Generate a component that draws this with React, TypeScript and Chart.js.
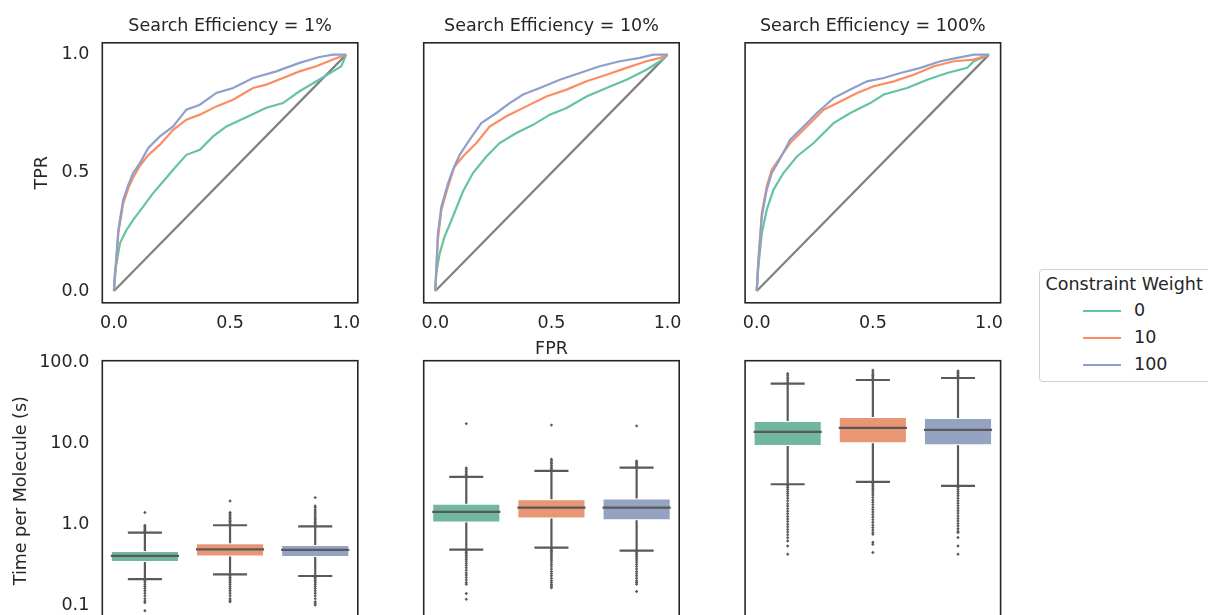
import React, { useEffect, useRef } from 'react';
import { Chart, registerables } from 'chart.js';

Chart.register(...registerables);

// ---------------- data ----------------
const constraintWeights = ['0', '10', '100'];
const searchEfficiencies = ['1%', '10%', '100%'];
const rocTickValues = [0, 0.5, 1.0];
const timeTickValues = [0.1, 1, 10, 100];
const diagonalFpr = [0, 1];
const diagonalTpr = [0, 1];

// ROC curves, Search Efficiency = 1%
const fprE1W0 = [0, 0.004, 0.026, 0.054, 0.083, 0.126, 0.169, 0.212, 0.255, 0.312, 0.37, 0.427, 0.484, 0.57, 0.656, 0.728, 0.799, 0.885, 0.943, 0.979, 1];
const tprE1W0 = [0, 0.075, 0.202, 0.258, 0.301, 0.357, 0.414, 0.463, 0.513, 0.576, 0.597, 0.654, 0.696, 0.735, 0.775, 0.795, 0.845, 0.895, 0.929, 0.951, 1];
const fprE1W10 = [0, 0.019, 0.04, 0.062, 0.083, 0.112, 0.148, 0.198, 0.255, 0.312, 0.37, 0.441, 0.513, 0.599, 0.656, 0.728, 0.799, 0.871, 0.943, 1];
const tprE1W10 = [0, 0.244, 0.371, 0.435, 0.48, 0.53, 0.575, 0.619, 0.682, 0.725, 0.746, 0.781, 0.809, 0.859, 0.873, 0.901, 0.929, 0.951, 0.979, 1];
const fprE1W100 = [0, 0.019, 0.04, 0.062, 0.083, 0.112, 0.148, 0.198, 0.255, 0.312, 0.37, 0.441, 0.513, 0.599, 0.699, 0.799, 0.885, 0.943, 1];
const tprE1W100 = [0, 0.258, 0.386, 0.449, 0.499, 0.541, 0.605, 0.654, 0.696, 0.767, 0.788, 0.838, 0.859, 0.901, 0.929, 0.965, 0.99, 1.0, 1];

// ROC curves, Search Efficiency = 10%
const fprE10W0 = [0, 0.004, 0.019, 0.04, 0.076, 0.119, 0.162, 0.22, 0.277, 0.349, 0.421, 0.493, 0.565, 0.651, 0.737, 0.823, 0.909, 0.967, 1];
const tprE10W0 = [0, 0.075, 0.16, 0.23, 0.315, 0.421, 0.499, 0.569, 0.626, 0.668, 0.703, 0.746, 0.774, 0.823, 0.859, 0.894, 0.936, 0.972, 1];
const fprE10W10 = [0, 0.011, 0.026, 0.055, 0.083, 0.119, 0.177, 0.234, 0.306, 0.392, 0.478, 0.565, 0.651, 0.737, 0.823, 0.909, 0.967, 1];
const tprE10W10 = [0, 0.216, 0.343, 0.442, 0.527, 0.569, 0.626, 0.696, 0.739, 0.781, 0.823, 0.852, 0.887, 0.915, 0.944, 0.972, 0.986, 1];
const fprE10W100 = [0, 0.011, 0.026, 0.055, 0.076, 0.105, 0.148, 0.198, 0.263, 0.32, 0.378, 0.45, 0.536, 0.622, 0.708, 0.795, 0.881, 0.938, 1];
const tprE10W100 = [0, 0.244, 0.357, 0.456, 0.513, 0.576, 0.64, 0.71, 0.753, 0.795, 0.831, 0.859, 0.894, 0.922, 0.951, 0.972, 0.986, 1.0, 1];

// ROC curves, Search Efficiency = 100%
const fprE100W0 = [0, 0.007, 0.022, 0.043, 0.072, 0.115, 0.173, 0.245, 0.331, 0.403, 0.489, 0.547, 0.647, 0.734, 0.82, 0.906, 0.935, 1];
const tprE100W0 = [0, 0.103, 0.244, 0.343, 0.428, 0.499, 0.569, 0.626, 0.71, 0.753, 0.795, 0.831, 0.859, 0.894, 0.922, 0.944, 0.972, 1];
const fprE100W10 = [0, 0.007, 0.022, 0.043, 0.065, 0.094, 0.144, 0.216, 0.288, 0.36, 0.432, 0.504, 0.59, 0.676, 0.763, 0.849, 0.935, 1];
const tprE100W10 = [0, 0.131, 0.329, 0.442, 0.513, 0.555, 0.626, 0.696, 0.767, 0.802, 0.838, 0.866, 0.887, 0.915, 0.951, 0.972, 0.979, 1];
const fprE100W100 = [0, 0.007, 0.022, 0.043, 0.065, 0.094, 0.144, 0.216, 0.259, 0.331, 0.403, 0.475, 0.547, 0.619, 0.705, 0.791, 0.863, 0.935, 1];
const tprE100W100 = [0, 0.117, 0.315, 0.428, 0.499, 0.548, 0.64, 0.71, 0.753, 0.816, 0.852, 0.887, 0.901, 0.922, 0.944, 0.972, 0.986, 1.0, 1];

// Time per molecule box statistics (per constraint weight 0, 10, 100)
const q1E1 = [0.341, 0.398, 0.394];
const medE1 = [0.405, 0.49, 0.481];
const q3E1 = [0.467, 0.582, 0.555];
const loE1 = [0.209, 0.24, 0.229];
const hiE1 = [0.789, 0.972, 0.944];

const q1E10 = [1.05, 1.18, 1.12];
const medE10 = [1.42, 1.61, 1.61];
const q3E10 = [1.8, 2.04, 2.08];
const loE10 = [0.486, 0.515, 0.472];
const hiE10 = [3.85, 4.57, 5.03];

const q1E100 = [9.31, 10.06, 9.5];
const medE100 = [13.9, 15.6, 14.7];
const q3E100 = [19.0, 21.3, 20.7];
const loE100 = [3.13, 3.34, 2.98];
const hiE100 = [55.1, 61.1, 64.7];

// Outliers
const fliersE1W0 = [0.81, 0.84, 0.87, 0.9, 0.93, 0.97, 1.4, 0.2, 0.19, 0.18, 0.17, 0.16, 0.15, 0.14, 0.13, 0.12, 0.112, 0.107, 0.085];
const fliersE1W10 = [1.0, 1.04, 1.08, 1.12, 1.17, 1.22, 1.28, 1.34, 1.4, 1.94, 0.23, 0.22, 0.21, 0.2, 0.19, 0.18, 0.17, 0.16, 0.15, 0.14, 0.13, 0.12, 0.115, 0.11];
const fliersE1W100 = [0.97, 1.01, 1.05, 1.1, 1.15, 1.2, 1.27, 1.34, 1.42, 1.5, 1.6, 1.68, 2.14, 0.22, 0.21, 0.2, 0.19, 0.18, 0.17, 0.16, 0.15, 0.14, 0.13, 0.12, 0.11, 0.105, 0.1];
const fliersE10W0 = [3.95, 4.1, 4.3, 4.5, 4.75, 4.97, 17.6, 0.47, 0.45, 0.43, 0.41, 0.39, 0.37, 0.35, 0.33, 0.31, 0.29, 0.27, 0.25, 0.235, 0.22, 0.205, 0.19, 0.181, 0.139, 0.118];
const fliersE10W10 = [4.7, 4.9, 5.1, 5.35, 5.6, 5.85, 6.1, 6.37, 16.9, 0.5, 0.48, 0.46, 0.44, 0.42, 0.4, 0.38, 0.36, 0.34, 0.32, 0.3, 0.28, 0.26, 0.245, 0.23, 0.215, 0.2, 0.19, 0.18, 0.172, 0.164];
const fliersE10W100 = [5.2, 5.4, 5.6, 5.85, 6.08, 16.5, 0.46, 0.44, 0.42, 0.4, 0.38, 0.36, 0.34, 0.32, 0.3, 0.28, 0.26, 0.245, 0.23, 0.215, 0.2, 0.19, 0.181, 0.147];
const fliersE100W0 = [57, 60, 63, 66, 70, 73.3, 3.0, 2.85, 2.7, 2.55, 2.4, 2.25, 2.1, 1.95, 1.8, 1.68, 1.56, 1.45, 1.35, 1.25, 1.16, 1.08, 1.0, 0.93, 0.86, 0.8, 0.74, 0.68, 0.62, 0.539, 0.425];
const fliersE100W10 = [63, 66, 69, 72, 76, 80.5, 3.2, 3.05, 2.9, 2.75, 2.6, 2.45, 2.3, 2.15, 2.0, 1.87, 1.75, 1.63, 1.52, 1.42, 1.32, 1.23, 1.14, 1.06, 0.98, 0.91, 0.85, 0.79, 0.75, 0.6, 0.565, 0.447];
const fliersE100W100 = [67, 70, 73, 76, 78.9, 2.85, 2.7, 2.55, 2.4, 2.25, 2.1, 1.95, 1.82, 1.7, 1.58, 1.47, 1.37, 1.27, 1.18, 1.1, 1.02, 0.95, 0.88, 0.82, 0.789, 0.685, 0.539, 0.425];

// grouping of the named arrays
const rocFpr = [[fprE1W0, fprE1W10, fprE1W100], [fprE10W0, fprE10W10, fprE10W100], [fprE100W0, fprE100W10, fprE100W100]];
const rocTpr = [[tprE1W0, tprE1W10, tprE1W100], [tprE10W0, tprE10W10, tprE10W100], [tprE100W0, tprE100W10, tprE100W100]];
const boxQ1 = [q1E1, q1E10, q1E100];
const boxMed = [medE1, medE10, medE100];
const boxQ3 = [q3E1, q3E10, q3E100];
const boxLo = [loE1, loE10, loE100];
const boxHi = [hiE1, hiE10, hiE100];
const boxFliers = [[fliersE1W0, fliersE1W10, fliersE1W100], [fliersE10W0, fliersE10W10, fliersE10W100], [fliersE100W0, fliersE100W10, fliersE100W100]];

// ---------------- style ----------------
const FONT = "'DejaVu Sans', sans-serif";
const FONT_SIZE = 17.5;
const TEXT_COLOR = '#262626';
const FRAME_COLOR = '#262626';
const LINE_COLORS = ['#66c2a5', '#fc8d62', '#8da0cb'];
const BOX_COLORS = ['#71b7a0', '#e99675', '#95a3c3'];
const BOX_LINE = '#595959';
const DIAG_COLOR = '#808080';

Chart.defaults.font.family = FONT;
Chart.defaults.font.size = FONT_SIZE;
Chart.defaults.color = TEXT_COLOR;

// ---------------- layout ----------------
const FRAME_X = [102.3, 423.7, 745.1];
const FRAME_W = 255.5;
const TOP_Y = 42.8;
const BOT_Y = 360.7;
const FRAME_H = 260;

type Geo = { left: number; top: number; width: number; height: number; L: number; T: number; R: number; B: number };

function geometry(fx: number, fy: number, padL: number, padT: number, padR: number, padB: number): Geo {
  const left = Math.floor(fx - padL);
  const top = Math.floor(fy - padT);
  const L = fx - left;
  const T = fy - top;
  const width = Math.ceil(L + FRAME_W + padR);
  const height = Math.ceil(T + FRAME_H + padB);
  return { left, top, width, height, L, T, R: width - L - FRAME_W, B: height - T - FRAME_H };
}

const framePlugin = {
  id: 'frame',
  afterDatasetsDraw(chart: any) {
    const { ctx, chartArea } = chart;
    ctx.save();
    ctx.strokeStyle = FRAME_COLOR;
    ctx.lineWidth = 1.6;
    ctx.strokeRect(chartArea.left, chartArea.top, chartArea.right - chartArea.left, chartArea.bottom - chartArea.top);
    ctx.restore();
  },
};

const fontObj = { family: FONT, size: FONT_SIZE, weight: 'normal' as const };

function rocConfig(e: number, g: Geo, showY: boolean, xTitle: string | null): any {
  const datasets: any[] = [
    {
      label: 'chance',
      data: diagonalFpr.map((x, i) => ({ x, y: diagonalTpr[i] })),
      borderColor: DIAG_COLOR,
      borderWidth: 2.2,
      order: 4,
    },
  ];
  constraintWeights.forEach((w, wi) => {
    datasets.push({
      label: w,
      data: rocFpr[e][wi].map((x, i) => ({ x, y: rocTpr[e][wi][i] })),
      borderColor: LINE_COLORS[wi],
      borderWidth: 2.2,
      order: 3 - wi,
    });
  });
  datasets.forEach((d) => {
    d.showLine = true;
    d.pointRadius = 0;
    d.fill = false;
    d.tension = 0;
  });
  const pt = g.T - FONT_SIZE * 1.2 - 6;
  return {
    type: 'scatter',
    data: { datasets },
    options: {
      animation: false,
      responsive: false,
      maintainAspectRatio: false,
      devicePixelRatio: 1,
      events: [],
      layout: { padding: { left: showY ? 0 : g.L, top: 0, right: g.R, bottom: 0 } },
      plugins: {
        legend: { display: false },
        tooltip: { enabled: false },
        title: {
          display: true,
          text: 'Search Efficiency = ' + searchEfficiencies[e],
          font: fontObj,
          color: TEXT_COLOR,
          fullSize: false,
          padding: { top: pt, bottom: 6 },
        },
      },
      scales: {
        x: {
          type: 'linear',
          min: -0.05,
          max: 1.05,
          bounds: 'data',
          offset: false,
          grid: { display: false, drawTicks: false },
          border: { display: false },
          ticks: {
            padding: 10.5,
            color: TEXT_COLOR,
            font: fontObj,
            maxRotation: 0,
            autoSkip: false,
            callback: (v: any) => Number(v).toFixed(1),
          },
          afterBuildTicks: (s: any) => {
            s.ticks = rocTickValues.map((v) => ({ value: v }));
          },
          afterFit: (s: any) => {
            s.height = g.B;
            s.paddingLeft = 0;
            s.paddingRight = 0;
          },
          title: xTitle
            ? { display: true, text: xTitle, color: TEXT_COLOR, font: fontObj, padding: { top: 4, bottom: 4 } }
            : { display: false },
        },
        y: showY
          ? {
              type: 'linear',
              min: -0.05,
              max: 1.05,
              bounds: 'data',
              grid: { display: false, drawTicks: false },
              border: { display: false },
              ticks: {
                padding: 13,
                color: TEXT_COLOR,
                font: fontObj,
                autoSkip: false,
                callback: (v: any) => Number(v).toFixed(1),
              },
              afterBuildTicks: (s: any) => {
                s.ticks = rocTickValues.map((v) => ({ value: v }));
              },
              afterFit: (s: any) => {
                s.width = g.L;
                s.paddingTop = 0;
                s.paddingBottom = 0;
              },
              title: { display: true, text: 'TPR', color: TEXT_COLOR, font: fontObj, padding: { top: 4, bottom: 4 } },
            }
          : { type: 'linear', display: false, min: -0.05, max: 1.05, bounds: 'data' },
      },
    },
    plugins: [framePlugin],
  };
}

function timeConfig(e: number, g: Geo, showY: boolean): any {
  const q1 = boxQ1[e], med = boxMed[e], q3 = boxQ3[e], lo = boxLo[e], hi = boxHi[e];
  const boxes = constraintWeights.map((_, i) => ({ x: i, y: [q1[i], q3[i]] }));
  const segs: any[] = [];
  constraintWeights.forEach((_, i) => {
    segs.push({ x: i, y: lo[i] }, { x: i, y: q1[i] }, { x: i, y: null });
    segs.push({ x: i, y: q3[i] }, { x: i, y: hi[i] }, { x: i, y: null });
    segs.push({ x: i - 0.2, y: lo[i] }, { x: i + 0.2, y: lo[i] }, { x: i, y: null });
    segs.push({ x: i - 0.2, y: hi[i] }, { x: i + 0.2, y: hi[i] }, { x: i, y: null });
    segs.push({ x: i - 0.4, y: med[i] }, { x: i + 0.4, y: med[i] }, { x: i, y: null });
  });
  const fliers: any[] = [];
  boxFliers[e].forEach((arr, i) => arr.forEach((v) => fliers.push({ x: i, y: v })));
  return {
    type: 'bar',
    data: {
      datasets: [
        {
          type: 'bar',
          label: 'box',
          data: boxes,
          backgroundColor: BOX_COLORS,
          borderColor: 'rgba(255,255,255,0.55)',
          borderWidth: 1,
          borderSkipped: false,
          barPercentage: 0.8,
          categoryPercentage: 1,
          order: 3,
        },
        {
          type: 'line',
          label: 'whiskers',
          data: segs,
          borderColor: BOX_LINE,
          borderWidth: 2.2,
          pointRadius: 0,
          spanGaps: false,
          fill: false,
          tension: 0,
          order: 2,
        },
        {
          type: 'line',
          label: 'fliers',
          data: fliers,
          showLine: false,
          pointRadius: 1.7,
          pointStyle: 'rectRot',
          pointBackgroundColor: BOX_LINE,
          pointBorderWidth: 0,
          order: 1,
        },
      ],
    },
    options: {
      animation: false,
      responsive: false,
      maintainAspectRatio: false,
      devicePixelRatio: 1,
      events: [],
      layout: { padding: { left: showY ? 0 : g.L, top: g.T, right: g.R, bottom: g.B } },
      plugins: { legend: { display: false }, tooltip: { enabled: false } },
      scales: {
        x: {
          type: 'linear',
          display: false,
          min: -0.5,
          max: 2.5,
          bounds: 'data',
          offset: false,
          afterBuildTicks: (s: any) => {
            s.ticks = constraintWeights.map((_, i) => ({ value: i }));
          },
        },
        y: showY
          ? {
              type: 'logarithmic',
              min: 0.064,
              max: 105.9,
              bounds: 'data',
              grid: { display: false, drawTicks: false },
              border: { display: false },
              ticks: {
                padding: 13,
                color: TEXT_COLOR,
                font: fontObj,
                autoSkip: false,
                callback: (v: any) => Number(v).toFixed(1),
              },
              afterBuildTicks: (s: any) => {
                s.ticks = timeTickValues.map((v) => ({ value: v }));
              },
              afterFit: (s: any) => {
                s.width = g.L;
                s.paddingTop = 0;
                s.paddingBottom = 0;
              },
              title: { display: true, text: 'Time per Molecule (s)', color: TEXT_COLOR, font: fontObj, padding: { top: 4, bottom: 4 } },
            }
          : { type: 'logarithmic', display: false, min: 0.064, max: 105.9, bounds: 'data' },
      },
    },
    plugins: [framePlugin],
  };
}

function ChartBox({ g, make }: { g: Geo; make: () => any }) {
  const ref = useRef<HTMLCanvasElement | null>(null);
  useEffect(() => {
    const chart = new Chart(ref.current as HTMLCanvasElement, make());
    return () => chart.destroy();
  }, []);
  return (
    <canvas
      ref={ref}
      width={g.width}
      height={g.height}
      style={{ position: 'absolute', left: g.left, top: g.top, width: g.width, height: g.height }}
    />
  );
}

const TITLE_HALF = FONT_SIZE * 0.6 + 4;

export default function App() {
  const topGeos = [
    geometry(FRAME_X[0], TOP_Y, FRAME_X[0] - (43 - TITLE_HALF), TOP_Y, 12, 40),
    geometry(FRAME_X[1], TOP_Y, 15, TOP_Y, 12, 60.5),
    geometry(FRAME_X[2], TOP_Y, 15, TOP_Y, 12, 40),
  ];
  const botGeos = [
    geometry(FRAME_X[0], BOT_Y, FRAME_X[0] - (21.7 - TITLE_HALF), 22, 12, 6),
    geometry(FRAME_X[1], BOT_Y, 15, 22, 12, 6),
    geometry(FRAME_X[2], BOT_Y, 15, 22, 12, 6),
  ];
  return (
    <div
      style={{
        position: 'fixed',
        left: 0,
        top: 0,
        width: 1208,
        height: 615,
        overflow: 'hidden',
        background: '#ffffff',
        fontFamily: FONT,
      }}
    >
      {topGeos.map((g, e) => (
        <ChartBox key={'roc' + e} g={g} make={() => rocConfig(e, g, e === 0, e === 1 ? 'FPR' : null)} />
      ))}
      {botGeos.map((g, e) => (
        <ChartBox key={'time' + e} g={g} make={() => timeConfig(e, g, e === 0)} />
      ))}
      <div
        style={{
          position: 'absolute',
          left: 1039,
          top: 269,
          width: 200,
          height: 113,
          boxSizing: 'border-box',
          border: '1px solid #d0d0d0',
          borderRadius: 4,
          background: '#ffffff',
          fontSize: FONT_SIZE,
          lineHeight: '21px',
          color: TEXT_COLOR,
        }}
      >
        <div style={{ position: 'absolute', left: 5.5, top: 3.7, whiteSpace: 'nowrap' }}>Constraint Weight</div>
        {constraintWeights.map((w, i) => (
          <React.Fragment key={w}>
            <div
              style={{
                position: 'absolute',
                left: 42.7,
                top: 39.6 + 27 * i,
                width: 38,
                height: 2.2,
                background: LINE_COLORS[i],
              }}
            />
            <div style={{ position: 'absolute', left: 94, top: 30.2 + 27 * i, whiteSpace: 'nowrap' }}>{w}</div>
          </React.Fragment>
        ))}
      </div>
    </div>
  );
}
